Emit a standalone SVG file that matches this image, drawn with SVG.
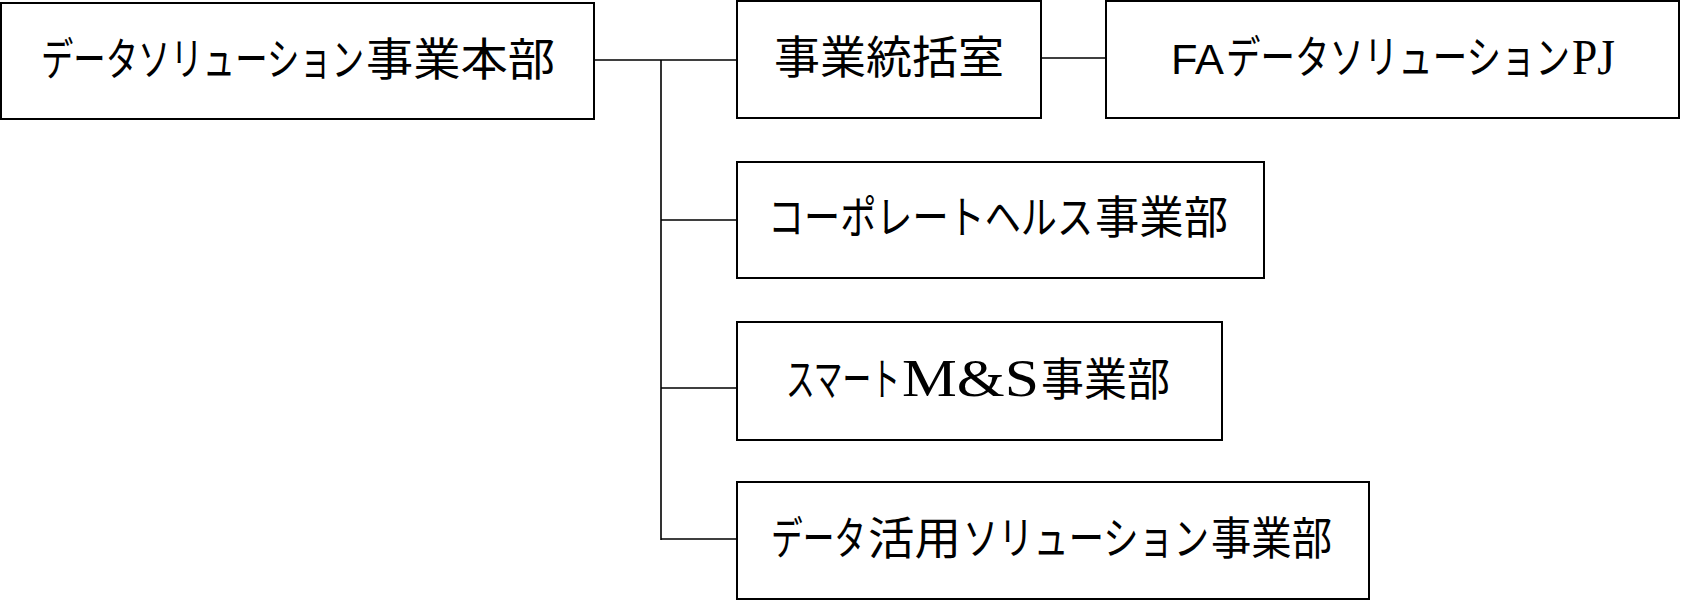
<svg xmlns="http://www.w3.org/2000/svg" width="1682" height="601" viewBox="0 0 1682 601">
<style>
.box{fill:#fff;stroke:#000;stroke-width:2}
.conn{stroke:#000;stroke-width:1.6;fill:none}
.t{font-family:"Noto Sans CJK JP","Noto Sans",sans-serif;font-size:45px;fill:#000}
.s{font-family:"Liberation Serif",serif}
.l{font-family:"Liberation Sans","Noto Sans",sans-serif;font-size:43px}
</style>
<rect width="1682" height="601" fill="#fff"/>
<g id="connectors">
<path class="conn" d="M595 60H737M661 60V540M661 220H737M661 388H737M661 539H737M1041 58H1106"/>
</g>
<g id="n-main">
<rect class="box" x="1" y="3" width="593" height="116"/>
<text class="t" y="76"><tspan x="41" textLength="323" lengthAdjust="spacingAndGlyphs">データソリューション</tspan><tspan x="366" textLength="189" lengthAdjust="spacingAndGlyphs">事業本部</tspan></text>
</g>
<g id="n-office">
<rect class="box" x="737" y="1" width="304" height="117"/>
<text class="t" y="74"><tspan x="774" textLength="230" lengthAdjust="spacingAndGlyphs">事業統括室</tspan></text>
</g>
<g id="n-fa">
<rect class="box" x="1106" y="1" width="573" height="117"/>
<text class="t" y="74"><tspan class="l" x="1171" textLength="53" lengthAdjust="spacingAndGlyphs">FA</tspan><tspan x="1226" textLength="344" lengthAdjust="spacingAndGlyphs">データソリューション</tspan><tspan class="s" x="1572" font-size="50" textLength="43" lengthAdjust="spacingAndGlyphs">PJ</tspan></text>
</g>
<g id="n-corp">
<rect class="box" x="737" y="162" width="527" height="116"/>
<text class="t" y="234"><tspan x="768" textLength="325" lengthAdjust="spacingAndGlyphs">コーポレートヘルス</tspan><tspan x="1095" textLength="133" lengthAdjust="spacingAndGlyphs">事業部</tspan></text>
</g>
<g id="n-smart">
<rect class="box" x="737" y="322" width="485" height="118"/>
<text class="t" y="396"><tspan x="786" textLength="114" lengthAdjust="spacingAndGlyphs">スマート</tspan><tspan class="s" x="902" font-size="53" textLength="137" lengthAdjust="spacingAndGlyphs">M&amp;S</tspan><tspan x="1041" textLength="129" lengthAdjust="spacingAndGlyphs">事業部</tspan></text>
</g>
<g id="n-data">
<rect class="box" x="737" y="482" width="632" height="117"/>
<text class="t" y="555"><tspan x="771" textLength="95" lengthAdjust="spacingAndGlyphs">データ</tspan><tspan x="868" textLength="93" lengthAdjust="spacingAndGlyphs">活用</tspan><tspan x="963" textLength="246" lengthAdjust="spacingAndGlyphs">ソリューション</tspan><tspan x="1211" textLength="121" lengthAdjust="spacingAndGlyphs">事業部</tspan></text>
</g>
</svg>
